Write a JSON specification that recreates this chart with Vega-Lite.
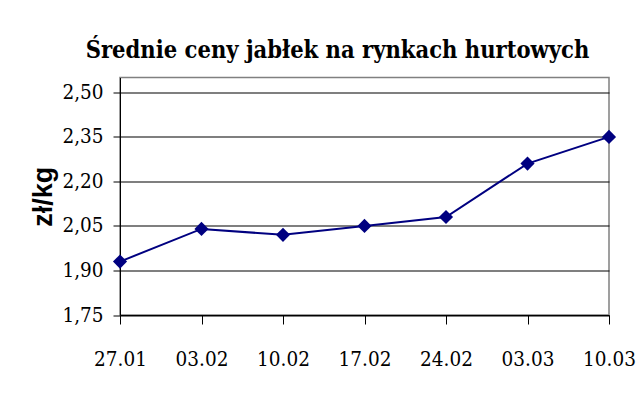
{
  "$schema": "https://vega.github.io/schema/vega-lite/v6.json",
  "width": 489,
  "height": 237.5,
  "autosize": {"type": "none"},
  "padding": {"left": 120, "top": 77.5, "right": 33, "bottom": 90},
  "background": "white",
  "title": {
    "text": "Średnie ceny jabłek na rynkach hurtowych",
    "font": "DejaVu Serif Condensed",
    "fontSize": 23.5,
    "fontWeight": "bold",
    "color": "black",
    "anchor": "middle",
    "baseline": "alphabetic",
    "offset": 16,
    "dx": -27,
    "dy": 20
  },
  "data": {
    "values": [
      {"data": "27.01", "cena": 1.93},
      {"data": "03.02", "cena": 2.04},
      {"data": "10.02", "cena": 2.02},
      {"data": "17.02", "cena": 2.05},
      {"data": "24.02", "cena": 2.08},
      {"data": "03.03", "cena": 2.26},
      {"data": "10.03", "cena": 2.35}
    ]
  },
  "encoding": {
    "x": {
      "field": "data",
      "type": "ordinal",
      "sort": null,
      "scale": {"type": "point", "padding": 0},
      "axis": {
        "title": null,
        "labelAngle": 0,
        "labelFont": "DejaVu Serif Condensed",
        "labelFontSize": 20.5,
        "labelColor": "black",
        "labelPadding": 25,
        "tickSize": 9,
        "tickColor": "black",
        "domainColor": "black",
        "grid": false
      }
    },
    "y": {
      "field": "cena",
      "type": "quantitative",
      "scale": {"domain": [1.75, 2.55], "nice": false, "zero": false},
      "axis": {
        "title": "zł/kg",
        "titleFont": "Liberation Sans",
        "titleFontSize": 27,
        "titleFontWeight": "bold",
        "titleColor": "black",
        "titlePadding": 4,
        "values": [1.75, 1.9, 2.05, 2.2, 2.35, 2.5],
        "labelExpr": "replace(format(datum.value, '.2f'), '.', ',')",
        "labelFont": "DejaVu Serif Condensed",
        "labelFontSize": 20.5,
        "labelColor": "black",
        "labelPadding": 10,
        "tickSize": 7,
        "tickColor": "black",
        "domainColor": "black",
        "grid": true,
        "gridColor": "black",
        "gridOpacity": 1,
        "gridWidth": 1.2
      }
    }
  },
  "layer": [
    {"mark": {"type": "line", "color": "#000080", "strokeWidth": 2}},
    {"mark": {"type": "point", "shape": "diamond", "filled": true, "size": 200, "color": "#000080", "opacity": 1}}
  ],
  "config": {
    "view": {"stroke": "#808080", "strokeWidth": 1.5}
  }
}
